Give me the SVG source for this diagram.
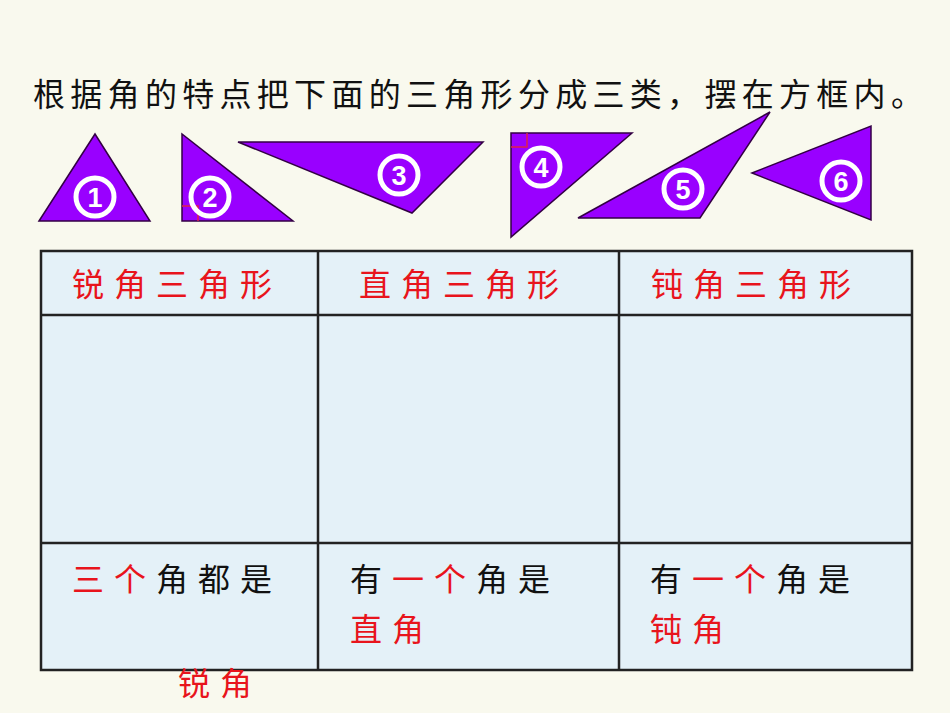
<svg xmlns="http://www.w3.org/2000/svg" width="950" height="713" viewBox="0 0 950 713">
<style>
.tri{fill:#9900ff;stroke:#330044;stroke-width:1.5}
.num circle{fill:none;stroke:#fff;stroke-width:5}
.num text{fill:#fff;font:bold 27px "Liberation Sans",sans-serif;text-anchor:middle}
.mk{fill:none;stroke:#e0204a;stroke-width:1.5}
.t{font-family:"Noto Sans CJK SC",sans-serif;font-size:32px;letter-spacing:10px}
.r{fill:#e8141c}
.k{fill:#111}
</style>
<rect width="950" height="713" fill="#f9f9ee"/>
<text x="33" y="106" class="t k" font-size="30" style="letter-spacing:5.3px">根据角的特点把下面的三角形分成三类，摆在方框内。</text>
<g id="tri1"><polygon class="tri" points="39,221 95,134 150,221"/><g class="num"><circle cx="95" cy="197" r="19"/><text x="95" y="207">1</text></g></g>
<g id="tri2"><polygon class="tri" points="182,134 182,221 293,221"/><polyline class="mk" points="182,206 198,206 198,221"/><g class="num"><circle cx="210" cy="197" r="19"/><text x="210" y="207">2</text></g></g>
<g id="tri3"><polygon class="tri" points="238,142 483,142 412,213"/><g class="num"><circle cx="399" cy="175" r="19"/><text x="399" y="185">3</text></g></g>
<g id="tri4"><polygon class="tri" points="511,133 632,133 511,237"/><polyline class="mk" points="511,147 527,147 527,133"/><g class="num"><circle cx="541" cy="167" r="19"/><text x="541" y="177">4</text></g></g>
<g id="tri5"><polygon class="tri" points="578,218 770,112 700,218"/><g class="num"><circle cx="683" cy="189" r="19"/><text x="683" y="199">5</text></g></g>
<g id="tri6"><polygon class="tri" points="752,173 871,126 871,220"/><g class="num"><circle cx="841" cy="181" r="19"/><text x="841" y="191">6</text></g></g>
<g id="table" stroke="#222" stroke-width="2.5">
<rect x="41" y="251" width="871" height="419" fill="#e4f1f8"/>
<line x1="318" y1="251" x2="318" y2="670"/><line x1="619" y1="251" x2="619" y2="670"/>
<line x1="41" y1="315" x2="912" y2="315"/><line x1="41" y1="543" x2="912" y2="543"/>
</g>
<text x="72" y="296" class="t r">锐角三角形</text>
<text x="359" y="296" class="t r">直角三角形</text>
<text x="651" y="296" class="t r">钝角三角形</text>
<text x="72" y="591" class="t"><tspan class="r">三个</tspan><tspan class="k">角都是</tspan></text>
<text x="178" y="695" class="t r">锐角</text>
<text x="350" y="591" class="t"><tspan class="k">有</tspan><tspan class="r">一个</tspan><tspan class="k">角是</tspan></text>
<text x="350" y="641" class="t r">直角</text>
<text x="650" y="591" class="t"><tspan class="k">有</tspan><tspan class="r">一个</tspan><tspan class="k">角是</tspan></text>
<text x="650" y="641" class="t r">钝角</text>
</svg>
